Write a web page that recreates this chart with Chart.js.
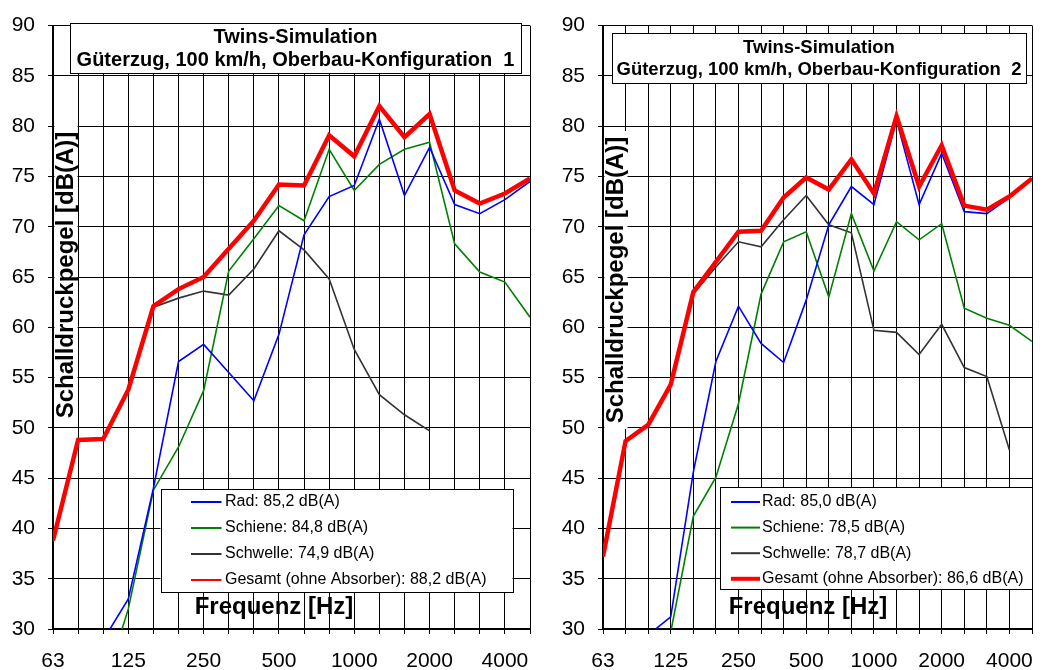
<!DOCTYPE html>
<html lang="de">
<head>
<meta charset="UTF-8">
<title>Twins-Simulation Güterzug 100 km/h</title>
<script src="https://cdn.jsdelivr.net/npm/chart.js"></script>
<style>
    body { margin: 0; background: #fff; }
    #wrap { position: relative; width: 1047px; height: 670px; overflow: hidden; }
    canvas { position: absolute; top: 0; }
    #left { left: 0; }
    #right { left: 545px; }
</style>
</head>
<body>
<div id="wrap">
    <canvas id="left" width="545" height="670"></canvas>
    <canvas id="right" width="502" height="670"></canvas>
</div>

<script>
    // Terzbänder
    const freqs = ['63', '80', '100', '125', '160', '200', '250', '315', '400', '500',
                   '630', '800', '1000', '1250', '1600', '2000', '2500', '3150', '4000', '5000'];
    const shownFreqs = ['63', '125', '250', '500', '1000', '2000', '4000'];

    // Oberbau-Konfiguration 1
    const rad1      = [null, null, 28.9, 33.0, 44.0, 56.6, 58.3, 55.5, 52.7, 59.3, 69.2, 73.0, 74.1, 80.7, 73.1, 77.9, 72.2, 71.3, 72.7, 74.5];
    const schiene1  = [null, null, 24.0, 32.0, 43.8, 48.1, 53.7, 65.6, 68.8, 72.1, 70.6, 77.7, 73.6, 76.2, 77.7, 78.4, 68.3, 65.5, 64.5, 61.0];
    const schwelle1 = [38.7, 48.7, 48.8, 53.7, 62.0, 62.9, 63.6, 63.2, 65.8, 69.6, 67.7, 64.8, 57.8, 53.3, 51.3, 49.7, null, null, null, null];
    const gesamt1   = [38.8, 48.8, 48.9, 53.8, 62.1, 63.8, 65.0, 67.8, 70.6, 74.2, 74.1, 79.1, 77.0, 82.0, 78.9, 81.2, 73.6, 72.3, 73.3, 74.8];
    const labels1 = ['Rad: 85,2 dB(A)', 'Schiene: 84,8 dB(A)', 'Schwelle: 74,9 dB(A)', 'Gesamt (ohne Absorber): 88,2 dB(A)'];
    const title1 = ['Twins-Simulation', 'Güterzug, 100 km/h, Oberbau-Konfiguration  1'];

    // Oberbau-Konfiguration 2
    const rad2      = [null, null, 29.4, 31.2, 45.6, 56.6, 62.1, 58.4, 56.5, 62.7, 70.2, 74.0, 72.2, 80.6, 72.2, 77.3, 71.5, 71.3, 72.9, 74.8];
    const schiene2  = [null, null, null, 29.7, 41.2, 45.1, 52.4, 63.3, 68.5, 69.5, 63.0, 71.3, 65.6, 70.5, 68.7, 70.3, 61.9, 60.9, 60.2, 58.6];
    const schwelle2 = [37.1, 48.6, 50.2, 54.2, 63.3, 66.0, 68.5, 68.0, 70.7, 73.1, 70.2, 69.4, 59.7, 59.5, 57.3, 60.3, 56.0, 55.1, 47.8, null];
    const gesamt2   = [37.2, 48.7, 50.3, 54.3, 63.5, 66.5, 69.5, 69.6, 72.9, 74.9, 73.7, 76.7, 73.3, 81.0, 74.0, 78.1, 72.1, 71.7, 73.0, 74.8];
    const labels2 = ['Rad: 85,0 dB(A)', 'Schiene: 78,5 dB(A)', 'Schwelle: 78,7 dB(A)', 'Gesamt (ohne Absorber): 86,6 dB(A)'];
    const title2 = ['Twins-Simulation', 'Güterzug, 100 km/h, Oberbau-Konfiguration  2'];

    const FONT = '"Liberation Sans", Arial, sans-serif';
    Chart.defaults.font.family = FONT;
    Chart.defaults.color = '#000';

    // Titelkasten, Achsentitel und Legende direkt auf die Zeichenfläche
    const decoPlugin = {
        id: 'deco',
        afterDraw(chart, args, o) {
            const ctx = chart.ctx;
            ctx.save();

            // y-Achsentitel mit weissem Hintergrund
            const yt = o.yTitle;
            ctx.fillStyle = '#fff';
            ctx.fillRect(yt.x - yt.w / 2, yt.y - yt.h / 2, yt.w, yt.h);
            ctx.fillStyle = '#000';
            ctx.font = 'bold ' + yt.size + 'px ' + FONT;
            ctx.textAlign = 'center';
            ctx.textBaseline = 'middle';
            ctx.translate(yt.x, yt.y);
            ctx.rotate(-Math.PI / 2);
            ctx.fillText('Schalldruckpegel [dB(A)]', 0, 0);
            ctx.setTransform(1, 0, 0, 1, 0, 0);

            // x-Achsentitel
            const xt = o.xTitle;
            ctx.font = 'bold ' + xt.size + 'px ' + FONT;
            ctx.fillText('Frequenz [Hz]', xt.x, xt.y);

            // Titel
            const t = o.titleBox;
            ctx.fillStyle = '#fff';
            ctx.fillRect(t.x, t.y, t.w, t.h);
            ctx.strokeStyle = '#000';
            ctx.lineWidth = 1;
            ctx.strokeRect(Math.round(t.x) + 0.5, Math.round(t.y) + 0.5, Math.round(t.w), Math.round(t.h));
            ctx.fillStyle = '#000';
            ctx.font = 'bold ' + t.size + 'px ' + FONT;
            o.title.forEach((line, i) => ctx.fillText(line, t.x + t.w / 2, t.y + t.first + i * t.gap));

            // Legende
            const lg = o.legend;
            ctx.fillStyle = '#fff';
            ctx.fillRect(lg.x, lg.y, lg.w, lg.h);
            ctx.strokeRect(Math.round(lg.x) + 0.5, Math.round(lg.y) + 0.5, Math.round(lg.w), Math.round(lg.h));
            ctx.font = lg.size + 'px ' + FONT;
            ctx.textAlign = 'left';
            chart.data.datasets.forEach((ds, i) => {
                const ry = lg.y + lg.first + i * lg.gap;
                ctx.strokeStyle = ds.borderColor;
                ctx.lineWidth = lg.widths[i];
                ctx.beginPath();
                ctx.moveTo(lg.x + lg.line0, ry);
                ctx.lineTo(lg.x + lg.line1, ry);
                ctx.stroke();
                ctx.fillStyle = '#000';
                ctx.fillText(ds.label, lg.x + lg.text, ry);
            });
            ctx.restore();
        }
    };

    function buildChart(id, series, labels, deco, yWidth, padRight) {
        const colors = ['#0000ff', '#008000', '#333333', '#ff0000'];
        const widths = [1.6, 1.6, 1.6, 4.5];
        const orders = [1, 2, 3, 0];
        return new Chart(document.getElementById(id), {
            type: 'line',
            data: {
                labels: freqs,
                datasets: series.map((d, i) => ({
                    label: labels[i],
                    data: d,
                    borderColor: colors[i],
                    borderWidth: widths[i],
                    pointRadius: 0,
                    tension: 0,
                    fill: false,
                    order: orders[i],
                    clip: 0
                }))
            },
            options: {
                responsive: false,
                animation: false,
                events: [],
                layout: { padding: { top: 19, right: padRight, left: 0, bottom: 0 } },
                plugins: {
                    legend: { display: false },
                    tooltip: { enabled: false },
                    deco: deco
                },
                scales: {
                    x: {
                        offset: false,
                        grid: { color: '#000', lineWidth: 1, tickLength: 5, offset: false },
                        border: { color: '#000', width: 2 },
                        ticks: {
                            autoSkip: false,
                            maxRotation: 0,
                            padding: 15,
                            font: { size: 21 },
                            callback: (v, i) => shownFreqs.includes(freqs[i]) ? freqs[i] : ''
                        },
                        afterFit: s => { s.height = 41; }
                    },
                    y: {
                        min: 30,
                        max: 90,
                        grid: { color: '#000', lineWidth: 1, tickLength: 5 },
                        border: { color: '#000', width: 2 },
                        ticks: { stepSize: 5, padding: 13, font: { size: 21 } },
                        afterFit: s => { s.width = yWidth; }
                    }
                }
            },
            plugins: [decoPlugin]
        });
    }

    buildChart('left', [rad1, schiene1, schwelle1, gesamt1], labels1, {
        title: title1,
        titleBox: { x: 70, y: 23, w: 451, h: 50, size: 20, first: 14.5, gap: 22.7 },
        yTitle: { x: 66, y: 275, w: 23, h: 298, size: 24 },
        xTitle: { x: 274, y: 607, size: 24 },
        legend: { x: 160.5, y: 489, w: 352, h: 103, size: 16, first: 13, gap: 26,
                  line0: 30.5, line1: 61, text: 64.5, widths: [2, 2, 2, 2] }
    }, 53, 10);

    buildChart('right', [rad2, schiene2, schwelle2, gesamt2], labels2, {
        title: title2,
        titleBox: { x: 67, y: 33, w: 414, h: 50, size: 18.5, first: 14.5, gap: 22.5 },
        yTitle: { x: 71, y: 280, w: 23, h: 298, size: 24 },
        xTitle: { x: 263, y: 607, size: 24 },
        legend: { x: 175, y: 487, w: 312, h: 102, size: 16, first: 15, gap: 25.6,
                  line0: 11, line1: 40, text: 42, widths: [2, 2, 2, 4] }
    }, 58, 1);
</script>
</body>
</html>
